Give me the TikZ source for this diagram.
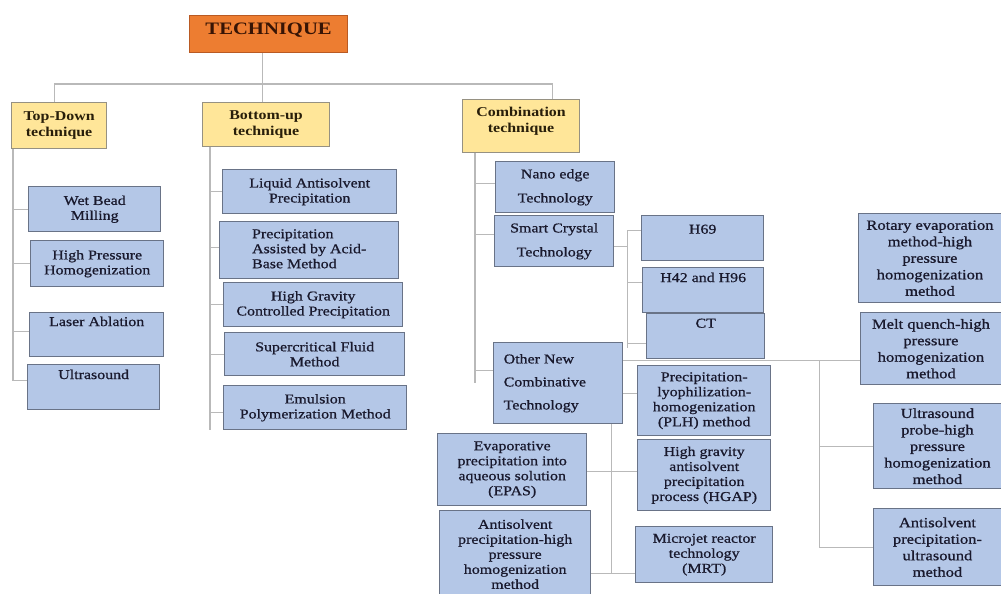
\documentclass[tikz,border=0pt]{standalone}
\usepackage{fontspec}
\setmainfont{Liberation Serif}[FakeStretch=1.18]
\newfontfamily\boxfont{Liberation Serif}[FakeStretch=1.18,FakeBold=0.8]
\usetikzlibrary{calc}
\pgfdeclarelayer{bg}
\pgfsetlayers{bg,main}
\definecolor{bfill}{RGB}{180,199,231}
\definecolor{bdraw}{RGB}{105,115,135}
\definecolor{btext}{RGB}{25,25,45}
\definecolor{yfill}{RGB}{255,230,153}
\definecolor{ydraw}{RGB}{150,145,130}
\definecolor{htext}{RGB}{40,30,10}
\definecolor{ofill}{RGB}{237,125,49}
\definecolor{odraw}{RGB}{185,90,35}
\definecolor{ttext}{RGB}{55,20,5}
\definecolor{lgray}{RGB}{185,185,185}
\tikzset{
  bluebox/.style={draw=bdraw, fill=bfill, line width=1.4pt, text=btext,
    font=\boxfont\fontsize{13.5}{15}\selectfont},
  rightbox/.style={bluebox, font=\boxfont\fontsize{14}{16.5}\selectfont},
  headbox/.style={draw=ydraw, fill=yfill, line width=1.2pt, text=htext,
    font=\bfseries\fontsize{13.5}{16}\selectfont},
  topbox/.style={draw=odraw, fill=ofill, line width=1.2pt, text=ttext,
    font=\bfseries\fontsize{17.5}{20}\selectfont},
  conn/.style={draw=lgray, line width=1.3pt},
}
\newcommand\bx[8]{%
  \pgfmathsetmacro\bw{#5-#3}\pgfmathsetmacro\bh{#6-#4}%
  \node[#2, anchor=north west, inner sep=0pt, minimum width=\bw pt, minimum height=\bh pt]
    (#1) at (#3,#4) {\parbox[c][\bh pt][#7]{\bw pt}{\centering #8}};%
}
\begin{document}
\begin{tikzpicture}[x=1pt,y=-1pt]
\useasboundingbox (0,0) rectangle (1001,594);
% boxes
\bx{tech}{topbox}{189}{15}{347}{52}{t}{\vspace*{7pt}TECHNIQUE}
\bx{td}{headbox}{11}{102}{106}{148}{c}{Top-Down\\technique}
\bx{bu}{headbox}{202}{102}{329}{146}{c}{Bottom-up\\technique}
\bx{comb}{headbox}{462}{99}{579}{152}{c}{Combination\\technique\par\vspace*{10pt}}

\bx{wbm}{bluebox}{28}{186}{160}{231}{c}{Wet Bead\\Milling}
\bx{hph}{bluebox}{30}{240}{163}{286}{c}{High Pressure\\Homogenization}
\bx{la}{bluebox}{29}{312}{163}{356}{t}{\vspace*{4pt}Laser Ablation}
\bx{us}{bluebox}{27}{364}{159}{409}{t}{\vspace*{5pt}Ultrasound}

\bx{lap}{bluebox}{222}{169}{396}{213}{c}{Liquid Antisolvent\\Precipitation}
\bx{pab}{bluebox}{219}{221}{398}{278}{c}{\begin{tabular}{@{}l@{}}Precipitation\\Assisted by Acid-\\Base Method\end{tabular}}
\bx{hgc}{bluebox}{223}{282}{402}{326}{c}{High Gravity\\Controlled Precipitation}
\bx{scf}{bluebox}{224}{332}{404}{375}{c}{Supercritical Fluid\\Method}
\bx{epm}{bluebox}{223}{385}{406}{429}{c}{Emulsion\\Polymerization Method}

\bx{nano}{bluebox}{495}{161}{614}{212}{c}{\fontsize{13.5}{24}\selectfont Nano edge\\Technology}
\bx{smart}{bluebox}{494}{215}{613}{266}{c}{\fontsize{13.5}{24}\selectfont Smart Crystal\\Technology}
\bx{other}{bluebox}{493}{342}{622}{423}{c}{\fontsize{13.5}{23}\selectfont\raggedright\leftskip=10pt\relax Other New\\Combinative\\Technology}

\bx{h69}{bluebox}{641}{215}{763}{260}{t}{\vspace*{9pt}H69}
\bx{h42}{bluebox}{642}{267}{763}{312}{t}{\vspace*{5pt}H42 and H96}
\bx{ct}{bluebox}{646}{313}{764}{358}{t}{\vspace*{5pt}CT}

\bx{plh}{bluebox}{637}{365}{770}{435}{c}{Precipitation-\\lyophilization-\\homogenization\\(PLH) method}
\bx{hgap}{bluebox}{637}{439}{770}{510}{c}{High gravity\\antisolvent\\precipitation\\process (HGAP)}
\bx{mrt}{bluebox}{635}{526}{772}{582}{c}{Microjet reactor\\technology\\(MRT)}
\bx{epas}{bluebox}{437}{433}{586}{505}{c}{Evaporative\\precipitation into\\aqueous solution\\(EPAS)}
\bx{ashp}{bluebox}{439}{510}{590}{597}{c}{Antisolvent\\precipitation-high\\pressure\\homogenization\\method}

\bx{rot}{rightbox}{858}{213}{1000.5}{302}{c}{Rotary evaporation\\method-high\\pressure\\homogenization\\method}
\bx{melt}{rightbox}{860}{312}{1000.5}{384}{c}{Melt quench-high\\pressure\\homogenization\\method}
\bx{usp}{rightbox}{873}{403}{1000.5}{488}{c}{Ultrasound\\probe-high\\pressure\\homogenization\\method}
\bx{asu}{rightbox}{873}{508}{1000.5}{585}{c}{Antisolvent\\precipitation-\\ultrasound\\method}

% ---- connectors ----
\begin{pgfonlayer}{bg}
\draw[conn] ([xshift=-6pt]tech.south) -- ([xshift=-6pt]tech.south |- bu.north);
\draw[conn] ([xshift=-4.5pt]td.north) -- ++(0,-18) -| ([xshift=31.5pt]comb.north);

\coordinate (tds) at ([xshift=2pt]td.south west);
\draw[conn] (tds) |- (wbm.west);
\draw[conn] (tds) |- (hph.west);
\draw[conn] (tds) |- ([yshift=3pt]la.west);
\draw[conn] (tds) |- ([yshift=6.5pt]us.west);

\coordinate (bus) at ([xshift=8pt]bu.south west);
\draw[conn] (bus) -- (bus |- epm.south);
\draw[conn] (bus) |- (lap.west);
\draw[conn] (bus) |- ([yshift=2.5pt]pab.west);
\draw[conn] (bus) |- (hgc.west);
\draw[conn] (bus) |- (scf.west);
\draw[conn] (bus) |- ([yshift=-5pt]epm.west);

\coordinate (cs) at ([xshift=13pt]comb.south west);
\draw[conn] (cs) -- (cs |- other.center);
\draw[conn] (cs) |- ([yshift=3.5pt]nano.west);
\draw[conn] (cs) |- ([yshift=6.5pt]smart.west);
\draw[conn] (cs) |- ([yshift=12.5pt]other.west);

\coordinate (ss) at ([yshift=-5.5pt]smart.east);
\coordinate (sj) at ($(ss)+(13,0)$);
\draw[conn] (ss) -- (sj);
\draw[conn] ([yshift=7.5pt]h69.west) -| (sj);
\draw[conn] (sj) |- ([yshift=7.5pt]h42.west);
\draw[conn] (sj) |- ([yshift=-7.5pt]ct.west);
\draw[conn] (sj |- ct.west) -- ++(0,12);

\coordinate (oj) at ([yshift=22.5pt]other.east);
\draw[conn] (oj) -- (oj -| melt.west);
\coordinate (rj) at ($(oj)+(196,0)$);
\draw[conn] (rj) |- (usp.west);
\draw[conn] (rj) |- (asu.west);
\coordinate (pj) at ([yshift=-10.5pt]other.east);
\draw[conn] (pj) -- (pj -| plh.west);

\coordinate (ls) at ([xshift=-12pt]other.south east);
\coordinate (et) at ([yshift=-2pt]epas.east);
\draw[conn] (et) -- (et -| hgap.west);
\coordinate (abt) at ([yshift=-19pt]ashp.east);
\draw[conn] (abt) -- (abt -| mrt.west);
\draw[conn] (ls) -- (ls |- abt);
\end{pgfonlayer}
\end{tikzpicture}
\end{document}
